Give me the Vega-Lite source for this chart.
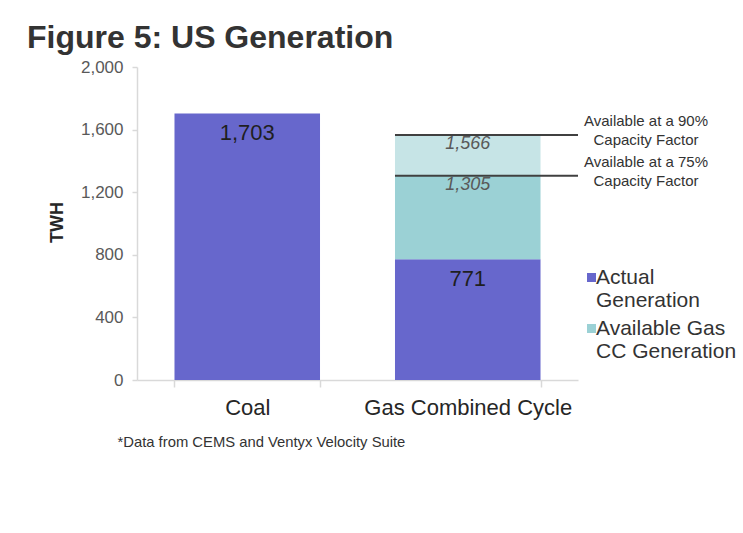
{
  "$schema": "https://vega.github.io/schema/vega-lite/v6.json",
  "width": 441,
  "height": 313,
  "autosize": {"type": "none"},
  "padding": {"left": 137, "top": 67, "right": 165, "bottom": 153},
  "background": "white",
  "title": {
    "text": "Figure 5: US Generation",
    "anchor": "start",
    "frame": "group",
    "dx": -110,
    "dy": 42,
    "offset": 20,
    "baseline": "alphabetic",
    "fontSize": 32,
    "fontWeight": "bold",
    "font": "Liberation Sans",
    "color": "#333333"
  },
  "config": {"view": {"stroke": null}, "font": "Liberation Sans"},
  "datasets": {
    "bars": [
      {"source": "Coal", "series": "Actual Generation", "start": 0, "end": 1703},
      {"source": "Gas Combined Cycle", "series": "Actual Generation", "start": 0, "end": 771},
      {"source": "Gas Combined Cycle", "series": "Available Gas CC Generation", "start": 771, "end": 1305},
      {"source": "Gas Combined Cycle", "series": "Available at 90% Capacity Factor", "start": 1305, "end": 1566}
    ],
    "capacity": [
      {"source": "Gas Combined Cycle", "value": 1566, "note": "Available at a 90%|Capacity Factor"},
      {"source": "Gas Combined Cycle", "value": 1305, "note": "Available at a 75%|Capacity Factor"}
    ]
  },
  "layer": [
    {
      "data": {"name": "bars"},
      "mark": {"type": "bar"},
      "encoding": {
        "x": {
          "field": "source",
          "type": "nominal",
          "scale": {"paddingInner": 0.34, "paddingOuter": 0.17},
          "axis": {
            "title": "*Data from CEMS and Ventyx Velocity Suite",
            "titleFontSize": 14.8,
            "titleFontWeight": "normal",
            "titleColor": "#333333",
            "titleAnchor": "start",
            "titleAlign": "left",
            "titleX": -20,
            "titleY": 62,
            "titleBaseline": "middle",
            "labelAngle": 0,
            "labelFontSize": 22,
            "labelColor": "#262626",
            "labelPadding": 10,
            "labelLimit": 300,
            "domainColor": "#d9d9d9",
            "domainWidth": 1.5,
            "tickColor": "#d9d9d9",
            "tickWidth": 1.5,
            "tickSize": 7,
            "tickBand": "extent"
          }
        },
        "y": {
          "field": "start",
          "type": "quantitative",
          "scale": {"domain": [0, 2000]},
          "axis": {
            "title": "TWH",
            "titleFontSize": 18,
            "titleFontWeight": "bold",
            "titleColor": "#262626",
            "titleX": -75,
            "titleY": 155,
            "titleAlign": "center",
            "titleBaseline": "alphabetic",
            "values": [0, 400, 800, 1200, 1600, 2000],
            "format": ",.0f",
            "labelFontSize": 17,
            "labelColor": "#595959",
            "labelPadding": 9,
            "tickSize": 5,
            "tickColor": "#d9d9d9",
            "tickWidth": 1.5,
            "domainColor": "#d9d9d9",
            "domainWidth": 1.5,
            "grid": false
          }
        },
        "y2": {"field": "end"},
        "color": {
          "field": "series",
          "type": "nominal",
          "scale": {
            "domain": ["Actual Generation", "Available Gas CC Generation", "Available at 90% Capacity Factor"],
            "range": ["#6767cc", "#9bd1d5", "#c6e4e6"]
          },
          "legend": {
            "orient": "none",
            "legendX": 444,
            "legendY": 200,
            "values": ["Actual Generation", "Available Gas CC Generation"],
            "title": null,
            "padding": 0,
            "symbolType": "square",
            "symbolSize": 81,
            "symbolStrokeWidth": 0,
            "labelFontSize": 21,
            "labelColor": "#333333",
            "labelOffset": -6,
            "labelLimit": 300,
            "rowPadding": 6,
            "labelExpr": "datum.label == 'Actual Generation' ? ['Actual', 'Generation'] : ['Available Gas', 'CC Generation']"
          }
        }
      }
    },
    {
      "data": {"name": "bars"},
      "transform": [{"filter": "datum.series == 'Actual Generation'"}],
      "mark": {"type": "text", "dy": 20, "fontSize": 22, "color": "#1f1f1f", "baseline": "middle"},
      "encoding": {
        "x": {"field": "source", "type": "nominal"},
        "y": {"field": "end", "type": "quantitative"},
        "text": {"field": "end", "type": "quantitative", "format": ",.0f"}
      }
    },
    {
      "data": {"name": "bars"},
      "transform": [{"filter": "datum.series != 'Actual Generation'"}],
      "mark": {"type": "text", "dy": 9, "fontSize": 18, "fontStyle": "italic", "color": "#595959", "baseline": "middle"},
      "encoding": {
        "x": {"field": "source", "type": "nominal"},
        "y": {"field": "end", "type": "quantitative"},
        "text": {"field": "end", "type": "quantitative", "format": ",.0f"}
      }
    },
    {
      "data": {"name": "capacity"},
      "mark": {"type": "rule", "color": "#404040", "strokeWidth": 2},
      "encoding": {
        "x": {"field": "source", "type": "nominal", "bandPosition": 0},
        "x2": {"value": "width"},
        "y": {"field": "value", "type": "quantitative"}
      }
    },
    {
      "data": {"name": "capacity"},
      "mark": {"type": "text", "lineBreak": "|", "dx": 68, "dy": -14, "align": "center", "baseline": "middle", "fontSize": 15, "lineHeight": 19, "color": "#333333"},
      "encoding": {
        "x": {"value": "width"},
        "y": {"field": "value", "type": "quantitative"},
        "text": {"field": "note"}
      }
    }
  ]
}
